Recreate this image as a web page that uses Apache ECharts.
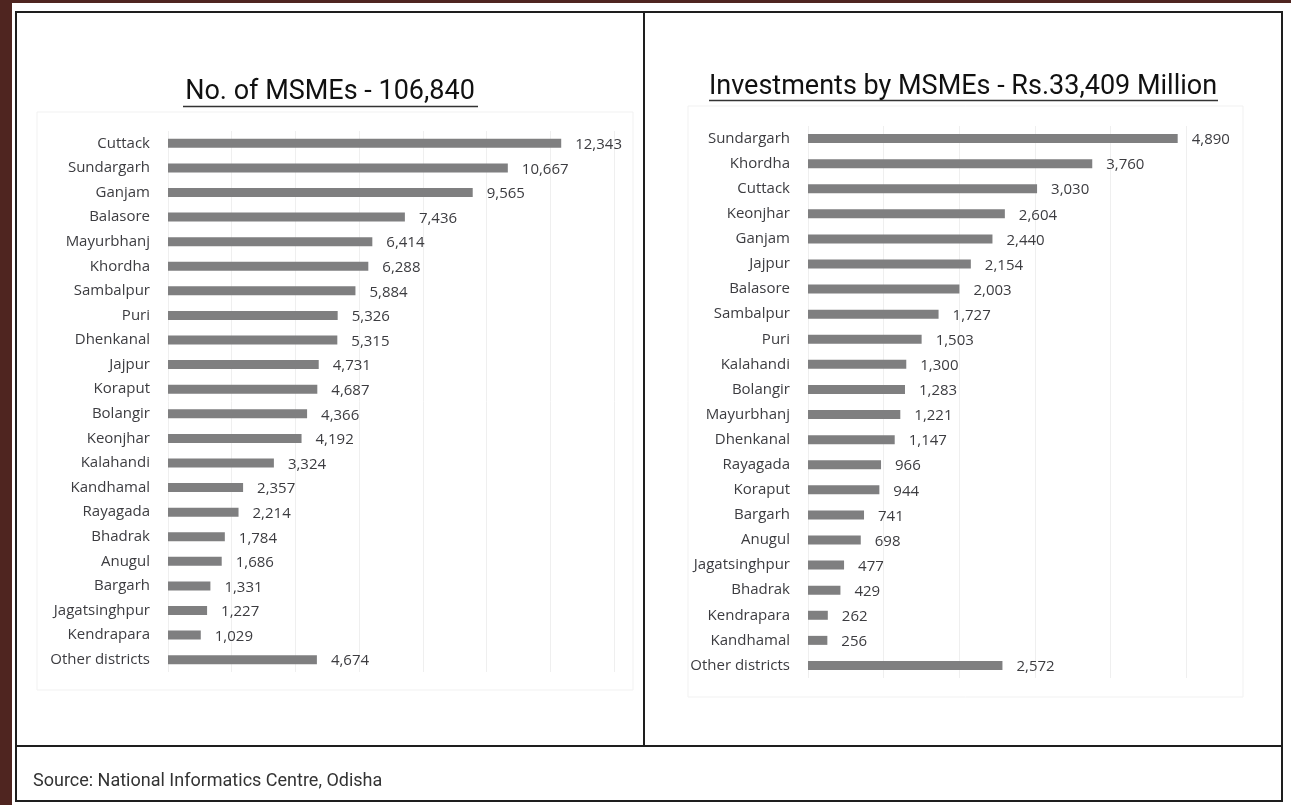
<!DOCTYPE html>
<html><head><meta charset="utf-8">
<script src="https://cdn.jsdelivr.net/npm/echarts@6/dist/echarts.min.js"></script>
<style>html,body{margin:0;padding:0;background:#fff;}#c{width:1291px;height:805px;}</style>
</head><body><div id="c"></div>
<script>
const leftTitle = "No. of MSMEs - 106,840";
const rightTitle = "Investments by MSMEs - Rs.33,409 Million";
const sourceText = "Source: National Informatics Centre, Odisha";
const leftCats = ["Cuttack","Sundargarh","Ganjam","Balasore","Mayurbhanj","Khordha","Sambalpur","Puri","Dhenkanal","Jajpur","Koraput","Bolangir","Keonjhar","Kalahandi","Kandhamal","Rayagada","Bhadrak","Anugul","Bargarh","Jagatsinghpur","Kendrapara","Other districts"];
const leftVals = [12343,10667,9565,7436,6414,6288,5884,5326,5315,4731,4687,4366,4192,3324,2357,2214,1784,1686,1331,1227,1029,4674];
const rightCats = ["Sundargarh","Khordha","Cuttack","Keonjhar","Ganjam","Jajpur","Balasore","Sambalpur","Puri","Kalahandi","Bolangir","Mayurbhanj","Dhenkanal","Rayagada","Koraput","Bargarh","Anugul","Jagatsinghpur","Bhadrak","Kendrapara","Kandhamal","Other districts"];
const rightVals = [4890,3760,3030,2604,2440,2154,2003,1727,1503,1300,1283,1221,1147,966,944,741,698,477,429,262,256,2572];

const labelFont = "'Open Sans', 'Noto Sans', sans-serif";
const titleFont = "Roboto, 'Open Sans', sans-serif";
const fmt = v => v.toLocaleString('en-US');

const chart = echarts.init(document.getElementById('c'));
function catAxis(idx, cats){
  return {type:'category', gridIndex:idx, data:cats, inverse:true,
    axisLine:{show:false}, axisTick:{show:false},
    axisLabel:{margin:18, color:'#3c3c40', fontSize:15, fontFamily:labelFont}};
}
function valAxis(idx, max, interval){
  return {type:'value', gridIndex:idx, min:0, max:max, interval:interval,
    axisLine:{show:false}, axisTick:{show:false}, axisLabel:{show:false},
    splitLine:{show:true, lineStyle:{color:'#efefef', width:1}}};
}
function barSeries(idx, vals){
  return {type:'bar', xAxisIndex:idx, yAxisIndex:idx, data:vals, barWidth:9,
    itemStyle:{color:'#7f7f80'}, silent:true,
    label:{show:true, position:'right', distance:14, offset:[0,1.5], color:'#3c3c40', fontSize:15,
      fontFamily:labelFont, formatter:p=>fmt(p.value)}};
}
chart.setOption({
  animation:false,
  grid:[
    {left:168, top:131, width:446, height:541},
    {left:808, top:126, width:378, height:552}
  ],
  xAxis:[valAxis(0,14000,2000), valAxis(1,5000,1000)],
  yAxis:[catAxis(0,leftCats), catAxis(1,rightCats)],
  series:[barSeries(0,leftVals), barSeries(1,rightVals)],
  graphic:[
    {type:'rect', shape:{x:0,y:0,width:12,height:805}, style:{fill:'#4f2520'}, z:-10},
    {type:'rect', shape:{x:0,y:0,width:1291,height:3}, style:{fill:'#4f2520'}, z:-10},
    {type:'rect', shape:{x:16,y:12,width:1266,height:789}, style:{fill:'none', stroke:'#1e1e1e', lineWidth:2}},
    {type:'line', shape:{x1:644,y1:12,x2:644,y2:746}, style:{stroke:'#1e1e1e', lineWidth:2}},
    {type:'line', shape:{x1:16,y1:746,x2:1282,y2:746}, style:{stroke:'#1e1e1e', lineWidth:2}},
    {type:'rect', shape:{x:37,y:112,width:596,height:578}, style:{fill:'none', stroke:'#f1f1f1', lineWidth:1}, z:-5},
    {type:'rect', shape:{x:688,y:106,width:555,height:591}, style:{fill:'none', stroke:'#f1f1f1', lineWidth:1}, z:-5},
    {type:'text', x:330, y:92, style:{text:leftTitle, fill:'#111', font:"27px "+titleFont, textAlign:'center', textVerticalAlign:'middle'}},
    {type:'line', shape:{x1:183,y1:106.5,x2:478,y2:106.5}, style:{stroke:'#333', lineWidth:1.5}},
    {type:'text', x:963, y:87, style:{text:rightTitle, fill:'#111', font:"27px "+titleFont, textAlign:'center', textVerticalAlign:'middle'}},
    {type:'line', shape:{x1:709,y1:100.5,x2:1218,y2:100.5}, style:{stroke:'#333', lineWidth:1.5}},
    {type:'text', x:33, y:781, style:{text:sourceText, fill:'#333', font:"18px "+titleFont, textAlign:'left', textVerticalAlign:'middle'}}
  ]
});
</script></body></html>
